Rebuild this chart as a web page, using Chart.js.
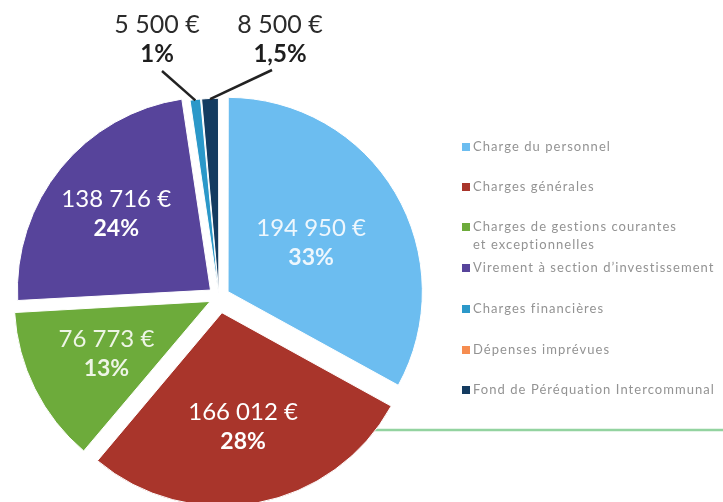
<!DOCTYPE html>
<html lang="fr">
<head>
<meta charset="utf-8">
<title>Répartition des dépenses de fonctionnement</title>
<script src="https://cdn.jsdelivr.net/npm/chart.js@4.4.1/dist/chart.umd.min.js"></script>
<style>
  html, body { margin: 0; padding: 0; background: #fff; }
  #wrap { position: relative; width: 723px; height: 502px; }
</style>
</head>
<body>
<div id="wrap"><canvas id="myChart"></canvas></div>
<script>
'use strict'

// Budget data
const categories = [
  'Charge du personnel',
  'Charges générales',
  ['Charges de gestions courantes', 'et exceptionnelles'],
  'Virement à section d\u2019investissement',
  'Charges financières',
  'Dépenses imprévues',
  'Fond de Péréquation Intercommunal'
];
const amounts = [194950, 166012, 76773, 138716, 5500, 0, 8500];
const percentLabels = ['33%', '28%', '13%', '24%', '1%', '', '1,5%'];
const sliceColors = ['#6cbdf0', '#a9352b', '#6dab3b', '#57449b', '#2b98c9', '#f68d50', '#143b60'];

// "194950" -> "194 950 €"
function formatEuro(value) {
  let s = String(value);
  let out = '';
  while (s.length > 3) {
    out = ' ' + s.slice(-3) + out;
    s = s.slice(0, -3);
  }
  return s + out + ' \u20ac';
}

const labelFont = 'Lato, "Open Sans", sans-serif';

// green rule behind the pie
const rulePlugin = {
  id: 'rule',
  beforeDatasetsDraw(chart) {
    const ctx = chart.ctx;
    ctx.save();
    ctx.strokeStyle = '#93d3a0';
    ctx.lineWidth = 2.5;
    ctx.beginPath();
    ctx.moveTo(330, 430);
    ctx.lineTo(723, 430);
    ctx.stroke();
    ctx.restore();
  }
};

// value + percent labels inside and above the slices
const sliceLabelPlugin = {
  id: 'sliceLabels',
  afterDatasetsDraw(chart) {
    const ctx = chart.ctx;
    const meta = chart.getDatasetMeta(0);
    const inside = [0.5, 0.6, 0.6, 0.63];
    const insideColors = ['#eef7fd', '#ffffff', '#eef5e6', '#ffffff'];

    ctx.save();
    ctx.textAlign = 'center';
    ctx.textBaseline = 'middle';

    for (let i = 0; i < inside.length; i++) {
      const arc = meta.data[i];
      const mid = (arc.startAngle + arc.endAngle) / 2;
      const shift = (arc.options.offset || 0) / 4;
      const r = shift + inside[i] * arc.outerRadius;
      const x = arc.x + Math.cos(mid) * r;
      const y = arc.y + Math.sin(mid) * r;
      ctx.fillStyle = insideColors[i];
      ctx.font = '24px ' + labelFont;
      ctx.fillText(formatEuro(amounts[i]), x, y - 14);
      ctx.font = 'bold 23px ' + labelFont;
      ctx.fillText(percentLabels[i], x, y + 15);
    }

    // small slices get their label above the pie, with a leader line
    const outside = [
      { index: 4, tx: 157, lineEnd: [162, 71] },
      { index: 6, tx: 280, lineEnd: [272, 70] }
    ];
    outside.forEach(function (o) {
      const arc = meta.data[o.index];
      const mid = (arc.startAngle + arc.endAngle) / 2;
      const shift = (arc.options.offset || 0) / 4;
      const r = shift + arc.outerRadius + 2;
      const x0 = arc.x + Math.cos(mid) * r;
      const y0 = arc.y + Math.sin(mid) * r;
      ctx.strokeStyle = '#222';
      ctx.lineWidth = 2.5;
      ctx.beginPath();
      ctx.moveTo(x0, y0);
      ctx.lineTo(o.lineEnd[0], o.lineEnd[1]);
      ctx.stroke();
      ctx.fillStyle = '#2b2b2b';
      ctx.font = '25px ' + labelFont;
      ctx.fillText(formatEuro(amounts[o.index]), o.tx, 25);
      ctx.fillStyle = '#1e1e1e';
      ctx.font = 'bold 24px ' + labelFont;
      ctx.fillText(percentLabels[o.index], o.tx, 54);
    });
    ctx.restore();
  }
};

// legend on the right, drawn by hand so the two-line item fits
const legendPlugin = {
  id: 'sideLegend',
  afterDraw(chart) {
    const ctx = chart.ctx;
    const rows = [147, 187, 227, 268, 309, 350, 390];
    ctx.save();
    ctx.textBaseline = 'middle';
    ctx.textAlign = 'left';
    ctx.font = '13px ' + labelFont;
    if ('letterSpacing' in ctx) ctx.letterSpacing = '1.05px';
    for (let i = 0; i < categories.length; i++) {
      const y = rows[i];
      ctx.fillStyle = sliceColors[i];
      ctx.fillRect(462, y - 4, 8, 8);
      ctx.fillStyle = '#939393';
      const lines = Array.isArray(categories[i]) ? categories[i] : [categories[i]];
      lines.forEach(function (line, k) {
        ctx.fillText(line, 473, y + k * 18);
      });
    }
    ctx.restore();
  }
};

const ctx = document.getElementById('myChart');

new Chart(ctx, {
  type: 'pie',
  data: {
    labels: categories,
    datasets: [{
      data: amounts,
      backgroundColor: sliceColors,
      borderColor: '#ffffff',
      borderWidth: 1,
      offset: [42, 64, 40, 44, 12, 0, 12],
      clip: false
    }]
  },
  options: {
    responsive: true,
    maintainAspectRatio: false,
    animation: false,
    radius: 193,
    layout: {
      padding: { left: 0, right: 285, top: 92, bottom: 0 }
    },
    plugins: {
      legend: { display: false },
      tooltip: { enabled: false }
    }
  },
  plugins: [rulePlugin, sliceLabelPlugin, legendPlugin]
});
</script>
</body>
</html>
